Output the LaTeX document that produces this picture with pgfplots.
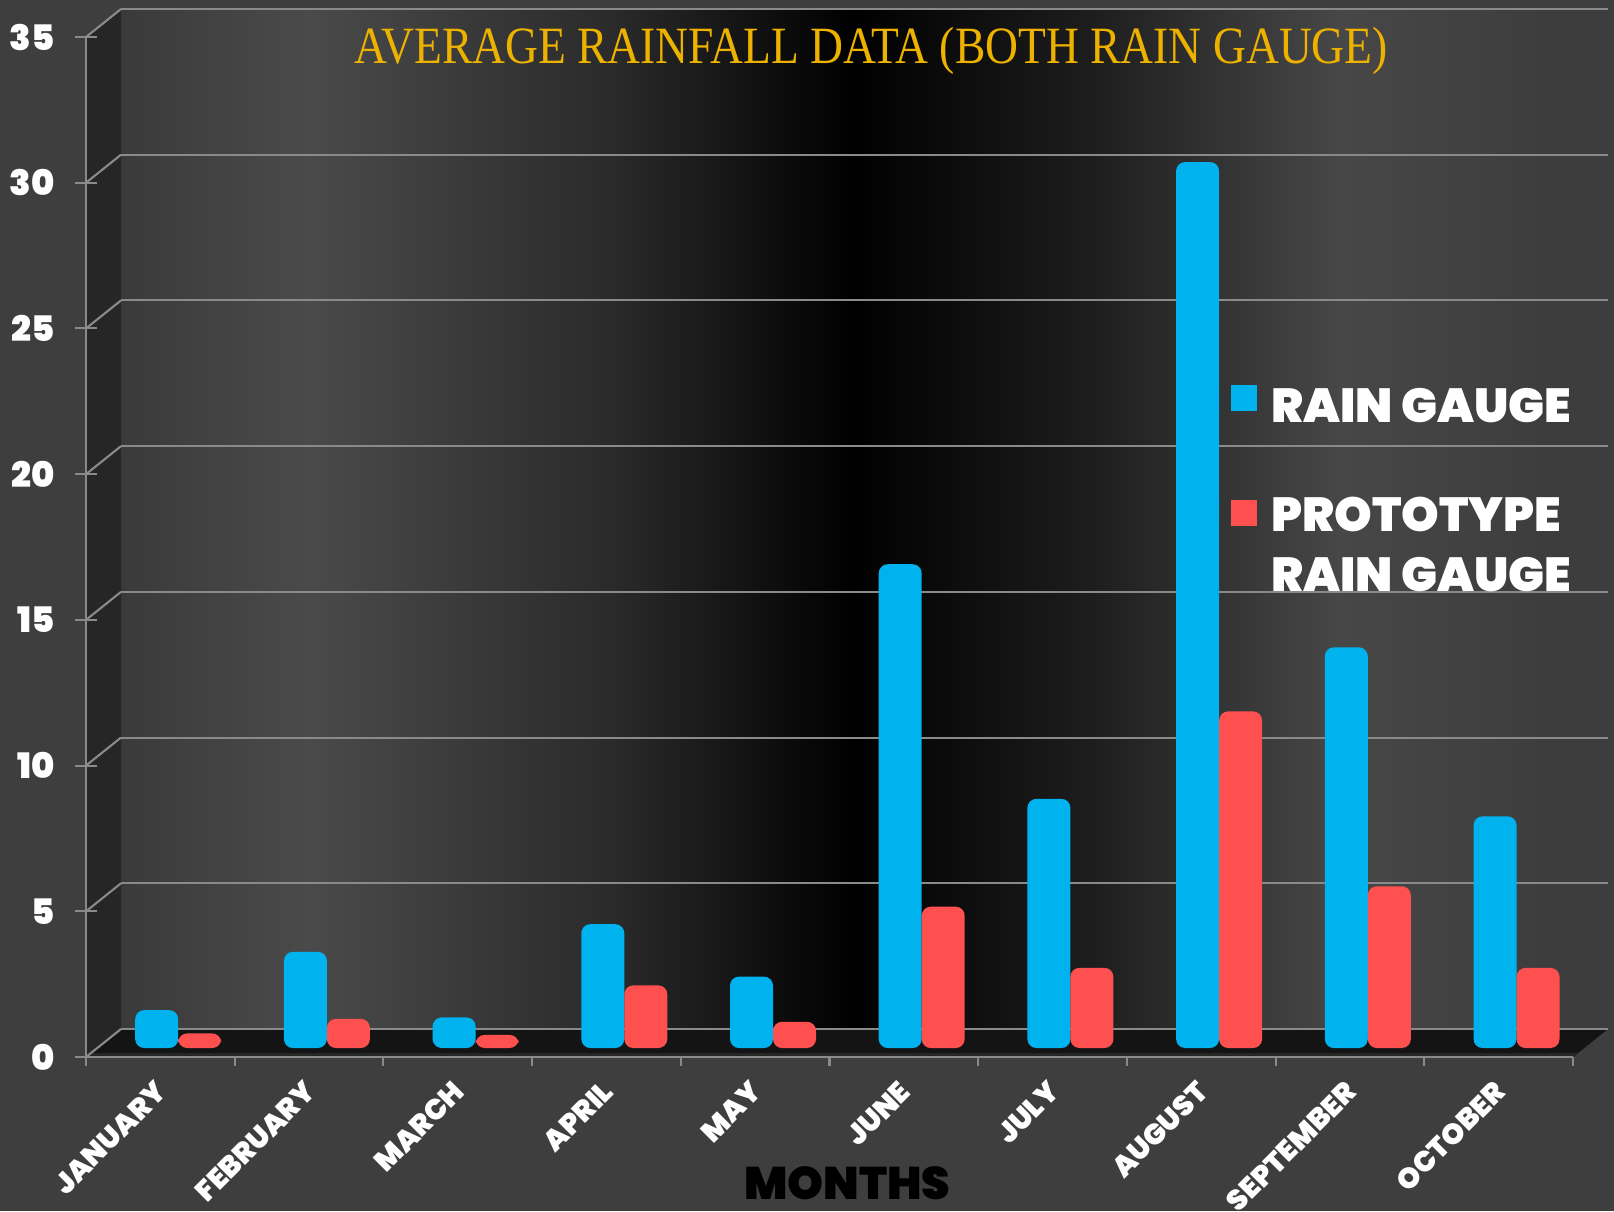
\documentclass[border=0pt]{standalone}
\usepackage{pgfplots}
\pgfplotsset{compat=1.18}
\usepackage{fontspec}
\newfontfamily\heavy{Poppins Black}
\newfontfamily\titlefont{Liberation Serif}[FakeStretch=0.87]
\definecolor{bgc}{HTML}{3E3E3E}
\definecolor{sidewall}{HTML}{262626}
\definecolor{floorc}{HTML}{141414}
\definecolor{floorlip}{HTML}{262626}
\definecolor{axisgray}{HTML}{8A8A8A}
\definecolor{titlegold}{HTML}{EDB100}
\definecolor{wA}{HTML}{3A3A3A}
\definecolor{wB}{HTML}{4A4A4A}
\definecolor{wC}{HTML}{2A2A2A}
\definecolor{wD}{HTML}{000000}
\definecolor{wE}{HTML}{1C1C1C}
\definecolor{wF}{HTML}{474747}
\definecolor{wG}{HTML}{3D3D3D}
\definecolor{blueF}{RGB}{0,178,238}
\definecolor{redF}{RGB}{255,80,80}
\pgfdeclarehorizontalshading{wall}{100bp}{color(0bp)=(wA); color(25bp)=(wA); color(31.3bp)=(wB); color(41.5bp)=(wC); color(49.5bp)=(wD); color(57.2bp)=(wE); color(65.8bp)=(wF); color(72.7bp)=(wG); color(75bp)=(wG); color(100bp)=(wG)}
\begin{document}
\begin{tikzpicture}[x=1cm,y=1cm]
\useasboundingbox (0,0) rectangle (16.14,12.11);
\fill[bgc] (0,0) rectangle (16.14,12.11);
\shade[shading=wall] (1.21,1.82) rectangle (16.14,12.02);
\fill[sidewall] (0.86,1.54) -- (1.21,1.82) -- (1.21,12.02) -- (0.86,11.74) -- cycle;
\fill[floorc] (0.86,1.54) -- (15.73,1.54) -- (16.08,1.82) -- (1.21,1.82) -- cycle;
\fill[floorlip] (0.86,1.54) -- (15.73,1.54) -- (15.77,1.58) -- (0.90,1.58) -- cycle;
\foreach \k in {0,...,7} \draw[axisgray, line width=0.6pt] (0.86,1.54+\k*1.457143) -- ++(0.35,0.28);
\foreach \k in {0,...,10} \draw[axisgray, line width=0.6pt] (0.86+\k*1.487,1.54) -- ++(0,-0.09);
\begin{axis}[
  at={(0.86cm,1.54cm)}, anchor=south west,
  scale only axis, width=14.87cm, height=10.20cm,
  xmin=-0.5, xmax=9.5, ymin=0, ymax=35,
  clip=false,
  axis x line*=bottom, axis y line*=left,
  axis line style={draw=axisgray, line width=0.6pt},
  ybar=0pt, bar width=0.43cm,
  xtick={0,...,9},
  xticklabels={JANUARY,FEBRUARY,MARCH,APRIL,MAY,JUNE,JULY,AUGUST,SEPTEMBER,OCTOBER},
  ytick={0,5,...,35},
  tick align=center,
  major tick length=0.22cm,
  tick style={draw=axisgray, line width=0.6pt},
  xtick style={draw=none},
  ymajorgrids,
  major grid style={draw=axisgray, line width=0.6pt, shift={(0.35cm,0.28cm)}},
  /pgf/number format/assume math mode=true,
  yticklabel style={font=\heavy\fontsize{10}{10}\selectfont, text=white, xshift=-0.08cm},
  xticklabel style={font=\heavy\fontsize{8.2}{8.2}\selectfont, text=white, xshift=0.1cm, yshift=-0.1cm, rotate=45, anchor=east},
  title={AVERAGE RAINFALL DATA (BOTH RAIN GAUGE)},
  title style={at={(0.528,0.991)}, anchor=center, yshift=-0.26cm, font=\titlefont\fontsize{14.9}{14.9}\selectfont, text=titlegold},
  xlabel={MONTHS},
  xlabel style={at={(axis description cs:0.512,-0.124)}, anchor=center, font=\heavy\fontsize{13}{13}\selectfont, text=black},
  legend style={at={(0.7695,0.663)}, anchor=north west, draw=none, fill=none, text=white,
    font=\heavy\fontsize{13.6}{17}\selectfont, row sep=0.55cm, column sep=0.075cm, inner sep=0pt,
    cells={anchor=west, align=left}},
]
\addplot[draw=none, fill=blueF, rounded corners=0.09cm, yshift=0.09cm,
  legend image code/.code={\fill[blueF, sharp corners] (0cm,-0.12cm) rectangle (0.26cm,0.14cm);}]
  coordinates {(0.12,1.3) (1.12,3.3) (2.12,1.05) (3.12,4.25) (4.12,2.45) (5.12,16.6) (6.12,8.55) (7.12,30.4) (8.12,13.75) (9.12,7.95)};
\addlegendentry{RAIN GAUGE}
\addplot[draw=none, fill=redF, rounded corners=0.09cm, yshift=0.09cm,
  legend image code/.code={\fill[redF, sharp corners] (0cm,0.12cm) rectangle (0.26cm,0.38cm);}]
  coordinates {(0.12,0.5) (1.12,1.0) (2.12,0.45) (3.12,2.15) (4.12,0.9) (5.12,4.85) (6.12,2.75) (7.12,11.55) (8.12,5.55) (9.12,2.75)};
\addlegendentry{PROTOTYPE\\RAIN GAUGE}
\end{axis}
\end{tikzpicture}
\end{document}
